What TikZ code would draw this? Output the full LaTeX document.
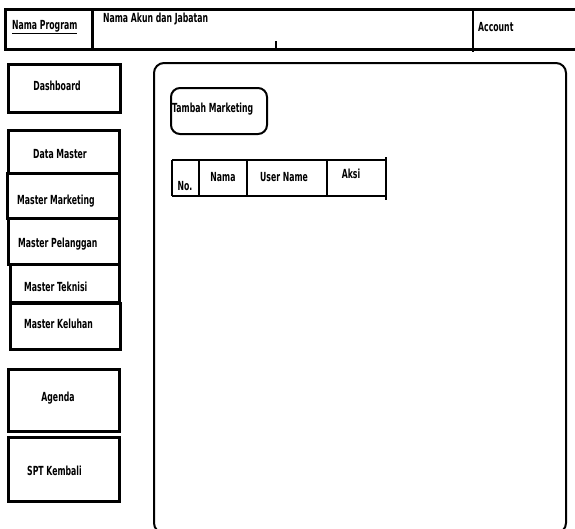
\documentclass[tikz,border=0pt]{standalone}
\usepackage{fontspec}
\setmainfont{DejaVu Sans}[FakeStretch=0.62]
\begin{document}
\begin{tikzpicture}[x=1pt,y=-1pt,
  lbl/.style={inner sep=0pt,font=\bfseries\fontsize{12.5}{14}\selectfont},
  thk/.style={line width=3pt},
  med/.style={line width=2pt}]
\useasboundingbox (0,0) rectangle (575,528);
% header
\draw[thk] (5,9) rectangle (578,49);
\draw[thk] (92,9) -- (92,49);
\draw[med] (473,9) -- (473,52);
\draw[line width=2.5pt] (276,41) -- (276,49);
\node[lbl,anchor=west] (np) at (12,27) {\underline{Nama Program}};
\node[lbl,anchor=west] (nak) at (103,19) {Nama Akun dan Jabatan};
\node[lbl,anchor=west] (acc) at (478,27) {Account};
% sidebar
\draw[thk] (8,64) rectangle (120,112);
\node[lbl] (dash) at (57,86) {Dashboard};
\draw[thk] (8,130) rectangle (119,173);
\node[lbl] (dm) at (60,154) {Data Master};
\draw[thk] (7,173) rectangle (119,218);
\node[lbl,anchor=west] (mm) at (17,201) {Master Marketing};
\draw[thk] (8,218) rectangle (119,264);
\node[lbl,anchor=west] (mp) at (18,244) {Master Pelanggan};
\draw[thk] (10,264) rectangle (119,302);
\node[lbl,anchor=west] (mt) at (24,287) {Master Teknisi};
\draw[thk] (10,303) rectangle (120,349);
\node[lbl,anchor=west] (mk) at (24,324) {Master Keluhan};
\draw[thk] (8,369) rectangle (119,431);
\node[lbl] (ag) at (58,398) {Agenda};
\draw[thk] (8,437) rectangle (119,501);
\node[lbl,anchor=west] (spt) at (27,471) {SPT Kembali};
% main panel
\draw[med,rounded corners=10pt] (154,63) rectangle (566,533);
\draw[med,rounded corners=9pt] (171,88) rectangle (267,134);
\node[lbl,anchor=west] (tm) at (172,109) {Tambah Marketing};
% table
\draw[med] (386,157) -- (386,200);
\draw[med] (172,160) -- (386,160) (172,196) -- (386,196) (172,160) -- (172,196);
\draw[line width=1.2pt] (199,160) -- (199,196) (247,160) -- (247,196) (327,160) -- (327,196);
\node[lbl] (no) at (185,186) {No.};
\node[lbl] (nama) at (223,177) {Nama};
\node[lbl] (un) at (284,177) {User Name};
\node[lbl] (aksi) at (351,174) {Aksi};
\end{tikzpicture}
\end{document}
